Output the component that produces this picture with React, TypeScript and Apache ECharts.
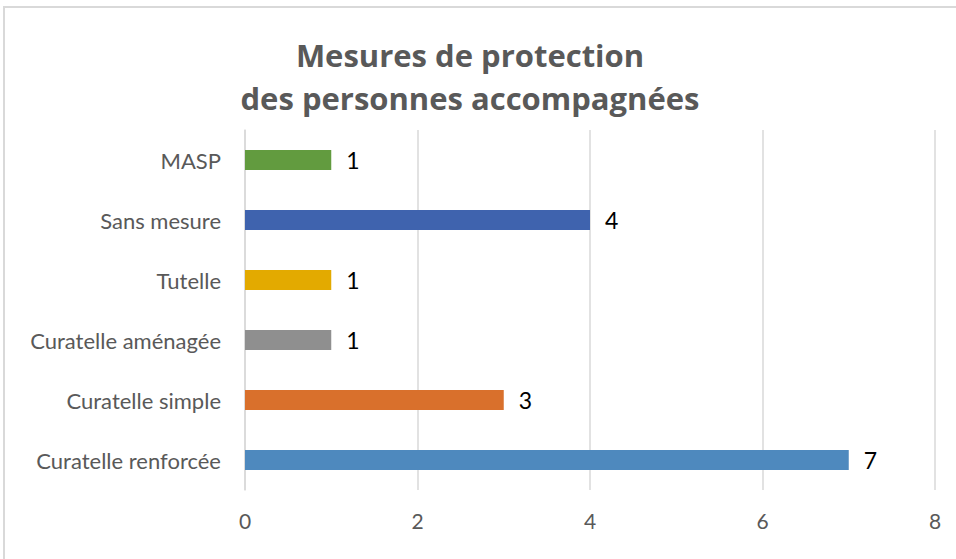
import React, { useEffect, useRef } from "react";
import * as echarts from "echarts";

const categories = ["Curatelle renforcée", "Curatelle simple", "Curatelle aménagée", "Tutelle", "Sans mesure", "MASP"];
const values = [7, 3, 1, 1, 4, 1];
const barColors = ["#4E89BE", "#D9702C", "#8F8F8F", "#E3AA00", "#3F63AE", "#629B3F"];
const titleLines = ["Mesures de protection", "des personnes accompagnées"];

export default function App() {
  const ref = useRef<HTMLDivElement>(null);
  useEffect(() => {
    const chart = echarts.init(ref.current!, null, { renderer: "svg" });
    const titleFont = { fontFamily: "Open Sans", fontWeight: "bold", fontSize: 31, fill: "#595959", align: "center", verticalAlign: "middle" };
    chart.setOption({
      animation: false,
      backgroundColor: "#ffffff",
      graphic: [
        { type: "rect", shape: { x: 4, y: 7, width: 1000, height: 600 }, style: { fill: "none", stroke: "#d9d9d9", lineWidth: 2 }, silent: true },
        ...titleLines.map((t, i) => ({
          type: "text",
          x: 470,
          y: 55 + i * 43,
          style: { text: t, ...titleFont },
          silent: true,
        })),
      ],
      grid: { left: 245, right: 21, top: 130, bottom: 69, containLabel: false },
      xAxis: {
        type: "value",
        min: 0,
        max: 8,
        interval: 2,
        axisLine: { show: false },
        axisTick: { show: false },
        splitLine: { show: true, lineStyle: { color: "#d9d9d9", width: 1.5 } },
        axisLabel: { color: "#595959", fontFamily: "Lato", fontSize: 21, margin: 20 },
      },
      yAxis: {
        type: "category",
        data: categories,
        axisLine: { show: true, lineStyle: { color: "#d9d9d9", width: 1.5 } },
        axisTick: { show: false },
        axisLabel: { color: "#595959", fontFamily: "Lato", fontSize: 22, margin: 24 },
      },
      series: [
        {
          type: "bar",
          barWidth: 20,
          data: values.map((v, i) => ({ value: v, itemStyle: { color: barColors[i] } })),
          label: {
            show: true,
            position: "right",
            distance: 15,
            color: "#000000",
            fontFamily: "Lato",
            fontSize: 23,
          },
        },
      ],
    });
    return () => chart.dispose();
  }, []);
  return <div ref={ref} style={{ position: "fixed", left: 0, top: 0, width: 956, height: 559 }} />;
}
